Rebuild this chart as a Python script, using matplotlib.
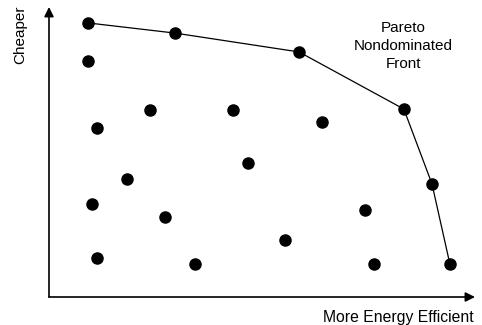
import matplotlib.pyplot as plt

# data (0-100 scales on both axes)
front_x = [9.2, 29.6, 58.7, 83.3, 89.9, 94.1]
front_y = [94.5, 91.0, 84.5, 64.8, 39.0, 11.4]

other_x = [9.2, 11.3, 23.7, 43.2, 64.1, 46.7, 18.3, 10.1, 27.2, 74.2, 11.3, 34.3, 55.4, 76.3]
other_y = [81.4, 58.3, 64.5, 64.5, 60.3, 46.2, 40.7, 32.1, 27.6, 30.0, 13.4, 11.4, 19.7, 11.4]

x_label = 'More Energy Efficient'
y_label = 'Cheaper'
front_label = 'Pareto\nNondominated\nFront'

plt.rcParams['font.family'] = ['Liberation Sans', 'DejaVu Sans']

fig = plt.figure(figsize=(4.82, 3.25), dpi=100)
# origin at (49, 297) px, top right at (475, 7) px
ax = fig.add_axes([49 / 482, (325 - 297) / 325, 426 / 482, 290 / 325])
ax.set_xlim(0, 100)
ax.set_ylim(0, 100)
ax.axis('off')

# axes arrows
ax.annotate('', xy=(1, 0), xytext=(0, 0), xycoords='axes fraction',
            arrowprops=dict(arrowstyle='-|>', mutation_scale=14, lw=1.2, color='black',
                            shrinkA=0, shrinkB=0))
ax.annotate('', xy=(0, 1), xytext=(0, 0), xycoords='axes fraction',
            arrowprops=dict(arrowstyle='-|>', mutation_scale=14, lw=1.2, color='black',
                            shrinkA=0, shrinkB=0))

ax.plot(front_x, front_y, '-o', color='black', lw=0.9, ms=8, clip_on=False)
ax.plot(other_x, other_y, 'o', color='black', ms=8, clip_on=False)

ax.text(-0.068, 0.905, y_label, transform=ax.transAxes, rotation=90,
        ha='center', va='center', fontsize=11)
ax.text(0.819, -0.069, x_label, transform=ax.transAxes,
        ha='center', va='center', fontsize=11.3)
ax.text(0.831, 0.866, front_label, transform=ax.transAxes,
        ha='center', va='center', fontsize=11, linespacing=1.35)

fig.savefig('out.png', dpi=100)
